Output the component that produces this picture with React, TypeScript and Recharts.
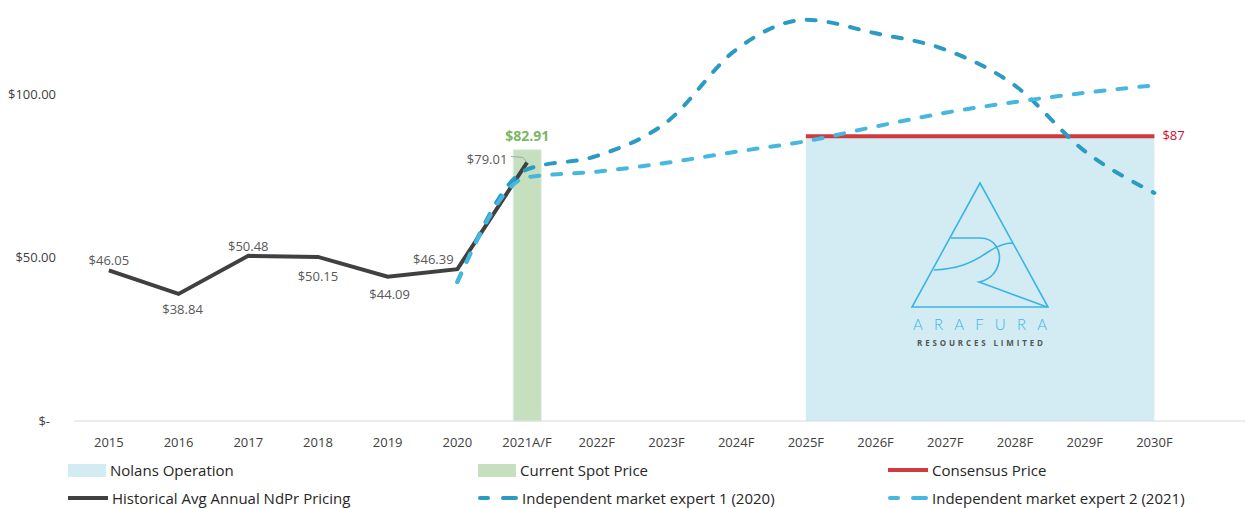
import {
  Area,
  Bar,
  ComposedChart,
  LabelList,
  Line,
  XAxis,
  YAxis,
} from "recharts";

const years = [
  "2015", "2016", "2017", "2018", "2019", "2020", "2021A/F", "2022F",
  "2023F", "2024F", "2025F", "2026F", "2027F", "2028F", "2029F", "2030F",
];
const historical = [46.05, 38.84, 50.48, 50.15, 44.09, 46.39, 79.01, null, null, null, null, null, null, null, null, null];
const expert2020 = [null, null, null, null, null, 42.5, 76.9, 81, 91.3, 113.5, 122.6, 118.5, 113.5, 102.5, 82.5, 69.7];
const expert2021 = [null, null, null, null, null, 42.5, 74.5, 76.2, 78.9, 82.3, 85.5, 90, 94.2, 97.5, 100.3, 102.6];
const spotPrice = [null, null, null, null, null, null, 82.91, null, null, null, null, null, null, null, null, null];
const nolansOperation = [null, null, null, null, null, null, null, null, null, null, 87, 87, 87, 87, 87, 87];
const consensusPrice = [null, null, null, null, null, null, null, null, null, null, 87, 87, 87, 87, 87, 87];
const yTicks = [0, 50, 100];

const data = years.map((label, i) => ({
  x: i,
  label,
  historical: historical[i],
  expert2020: expert2020[i],
  expert2021: expert2021[i],
  spot: spotPrice[i],
  nolans: nolansOperation[i],
  consensus: consensusPrice[i],
}));

const FONT = "'Open Sans', sans-serif";
const C = {
  hist: "#404040",
  exp1: "#2A9BC2",
  exp2: "#47B7DF",
  red: "#D0393E",
  green: "#C6DFBF",
  greenText: "#7BB661",
  nolans: "#D3ECF4",
  text: "#595959",
};

const money = (v: number) => (v === 0 ? "$-" : `$${v.toFixed(2)}`);

function YTick({ x, y, payload }: any) {
  return (
    <text x={x} y={y} dx={payload.value === 0 ? -6 : 0} textAnchor="end" dominantBaseline="central"
      fontFamily={FONT} fontSize={13} fill="#404040">
      {money(payload.value)}
    </text>
  );
}

function XTick({ x, y, payload }: any) {
  return (
    <text x={x} y={y} dy={19} textAnchor="middle" dominantBaseline="central"
      fontFamily={FONT} fontSize={13} fill="#404040">
      {years[payload.value]}
    </text>
  );
}

// per-point offsets for the historical labels, as placed in the original
const histOffsets = [
  [0, -10], [4, 15], [0, -10], [0, 19], [2, 17], [-24, -10], [-40, -3],
];

function HistLabel({ x, y, value, index }: any) {
  if (value == null) return null;
  const [dx, dy] = histOffsets[index] || [0, -10];
  return (
    <g>
      {index === 6 && (
        <path d={`M${x - 16},${y - 6} L${x - 4},${y - 5} L${x},${y}`} stroke="#A6A6A6" fill="none" strokeWidth={1} />
      )}
      <text x={x + dx} y={y + dy} textAnchor="middle" dominantBaseline="central"
        fontFamily={FONT} fontSize={13} fill={C.text}>
        {`$${Number(value).toFixed(2)}`}
      </text>
    </g>
  );
}

function SpotLabel({ x, y, width, value }: any) {
  if (value == null) return null;
  return (
    <text x={x + width / 2} y={y - 14} textAnchor="middle" dominantBaseline="central"
      fontFamily={FONT} fontSize={14} fontWeight={700} fill={C.greenText}>
      {`$${Number(value).toFixed(2)}`}
    </text>
  );
}

function ConsensusLabel({ x, y, value, index }: any) {
  if (value == null || index !== years.length - 1) return null;
  return (
    <text x={x + 8} y={y - 1} textAnchor="start" dominantBaseline="central"
      fontFamily={FONT} fontSize={13} fill="#C8102E">
      {`$${value}`}
    </text>
  );
}

function Logo() {
  const blue = "#3BB5E0";
  return (
    <svg width={1247} height={508} style={{ position: "absolute", left: 0, top: 0, pointerEvents: "none" }}>
      <g fill="none" stroke={blue} strokeWidth={1.6}>
        <path d="M980,183 L912,307 L1048,307 Z" />
        <path d="M951,238 L980,238 C996,238 1001,252 999,262 C997,272 990,280 979,282 L1047,307" />
        <path d="M934,270 C958,269 972,263 988,252 C997,246 1005,243 1013,243" />
      </g>
      <text x={913} y={324} textLength={134} lengthAdjust="spacing" dominantBaseline="central"
        fontFamily="Lato, sans-serif" fontWeight={300} fontSize={15} fill={blue}>ARAFURA</text>
      <text x={917} y={342} textLength={126} lengthAdjust="spacing" dominantBaseline="central"
        fontFamily={FONT} fontWeight={700} fontSize={8} fill="#555">RESOURCES LIMITED</text>
    </svg>
  );
}

function Swatch({ kind, color }: { kind: string; color: string }) {
  if (kind === "rect") return <div style={{ width: 38, height: 13, background: color }} />;
  if (kind === "line") return <div style={{ width: 40, height: 4, background: color }} />;
  return (
    <div style={{ width: 40, height: 4, display: "flex", justifyContent: "space-between" }}>
      <div style={{ width: 12, height: 4, background: color, borderRadius: 2 }} />
      <div style={{ width: 17, height: 4, background: color, borderRadius: 2 }} />
    </div>
  );
}

const legendItems = [
  { name: "Nolans Operation", kind: "rect", color: C.nolans, left: 68, top: 470 },
  { name: "Current Spot Price", kind: "rect", color: C.green, left: 478, top: 470 },
  { name: "Consensus Price", kind: "line", color: C.red, left: 888, top: 470 },
  { name: "Historical Avg Annual NdPr Pricing", kind: "line", color: C.hist, left: 68, top: 498 },
  { name: "Independent market expert 1 (2020)", kind: "dash", color: C.exp1, left: 478, top: 498 },
  { name: "Independent market expert 2 (2021)", kind: "dash", color: C.exp2, left: 888, top: 498 },
];

export default function App() {
  return (
    <div style={{ position: "absolute", left: 0, top: 0, width: 1247, height: 508, background: "#fff" }}>
      <ComposedChart width={1247} height={508} data={data} margin={{ top: 12, right: 2, bottom: 57, left: 0 }}>
        <XAxis
          dataKey="x"
          type="number"
          domain={[-0.5, 16.3]}
          ticks={years.map((_, i) => i)}
          allowDataOverflow
          tick={<XTick />}
          tickLine={false}
          tickSize={0}
          axisLine={{ stroke: "#D9D9D9" }}
          height={30}
          interval={0}
        />
        <YAxis
          type="number"
          domain={[0, 125]}
          ticks={yTicks}
          tick={<YTick />}
          tickLine={false}
          tickSize={0}
          tickMargin={18}
          axisLine={false}
          width={74}
        />
        <Area dataKey="nolans" type="linear" stroke="none" fill={C.nolans} fillOpacity={1} isAnimationActive={false} />
        <Bar dataKey="spot" barSize={28} fill={C.green} stroke="#DDEFE6" isAnimationActive={false}>
          <LabelList dataKey="spot" content={<SpotLabel />} />
        </Bar>
        <Line dataKey="consensus" type="linear" stroke={C.red} strokeWidth={4} dot={false} isAnimationActive={false}>
          <LabelList dataKey="consensus" content={<ConsensusLabel />} />
        </Line>
        <Line dataKey="historical" type="linear" stroke={C.hist} strokeWidth={4} dot={false} isAnimationActive={false}>
          <LabelList dataKey="historical" content={<HistLabel />} />
        </Line>
        <Line dataKey="expert2020" type="monotone" stroke={C.exp1} strokeWidth={4} strokeDasharray="9 13"
          strokeLinecap="round" dot={false} isAnimationActive={false} />
        <Line dataKey="expert2021" type="monotone" stroke={C.exp2} strokeWidth={4} strokeDasharray="9 13"
          strokeLinecap="round" dot={false} isAnimationActive={false} />
      </ComposedChart>
      <Logo />
      {legendItems.map((it) => (
        <div key={it.name} style={{
          position: "absolute", left: it.left, top: it.top - 10, height: 20,
          display: "flex", alignItems: "center", gap: 4,
          fontFamily: FONT, fontSize: 15, color: "#262626", whiteSpace: "nowrap",
        }}>
          <Swatch kind={it.kind} color={it.color} />
          <span>{it.name}</span>
        </div>
      ))}
    </div>
  );
}
